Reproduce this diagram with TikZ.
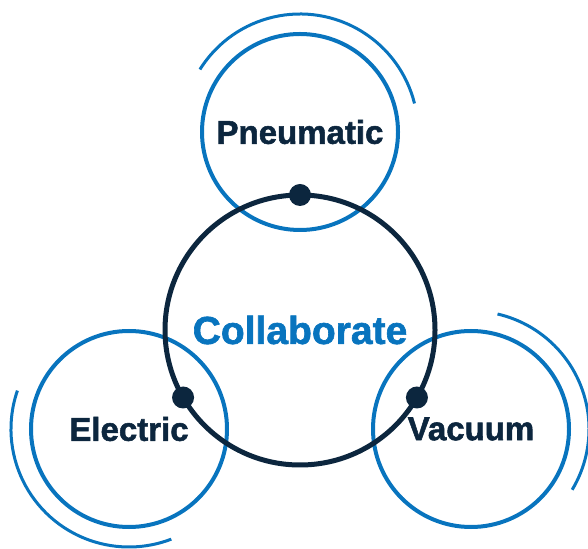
\documentclass[tikz,border=0pt]{standalone}
\usepackage{fontspec}
\setmainfont{Liberation Sans}
\newfontfamily\heavyfont[FakeBold=1.6]{Liberation Sans Bold}
\definecolor{ringblue}{RGB}{8,116,190}
\definecolor{navy}{RGB}{12,38,62}
\begin{document}
\begin{tikzpicture}[x=1pt,y=1pt,
  ring/.style={circle,draw=ringblue,line width=4pt,inner sep=0pt,minimum size=196pt,
    text=navy,font=\heavyfont\fontsize{33}{36}\selectfont},
  hub/.style={circle,draw=navy,line width=5pt,inner sep=0pt,minimum size=270pt,
    text=ringblue,font=\heavyfont\fontsize{39}{42}\selectfont},
  arcline/.style={draw=ringblue,line width=3pt},
  joint/.style={circle,fill=navy,inner sep=0pt,minimum size=22pt}]
\useasboundingbox (0,0) rectangle (588,548);
\node[ring] (pn) at (300,416) {Pneumatic};
\node[ring] (el) at (129,119) {Electric};
\node[ring] (va) at (471,119) {Vacuum};
\draw[arcline] ([shift={(148:118pt)}]pn.center) arc[start angle=148,end angle=14,radius=118pt];
\draw[arcline] ([shift={(161:118pt)}]el.center) arc[start angle=161,end angle=291,radius=118pt];
\draw[arcline] ([shift={(77:118pt)}]va.center) arc[start angle=77,end angle=-31,radius=118pt];
\node[hub] (co) at (300,218) {Collaborate};
\node[joint] (j1) at ([shift={(90:135pt)}]co.center) {};
\node[joint] (j2) at ([shift={(210:135pt)}]co.center) {};
\node[joint] (j3) at ([shift={(330:135pt)}]co.center) {};
\end{tikzpicture}
\end{document}
